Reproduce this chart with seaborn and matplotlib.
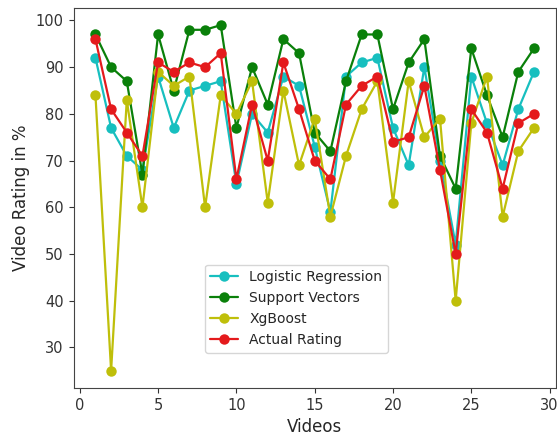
import matplotlib
matplotlib.use("Agg")
import matplotlib.pyplot as plt
import seaborn as sns
import pandas as pd

videos = list(range(1, 30))
logistic = [92, 77, 71, 68, 88, 77, 85, 86, 87, 65, 80, 76, 88, 86, 73, 59, 88, 91, 92, 77,
            69, 90, 70, 52, 88, 78, 69, 81, 89]
support = [97, 90, 87, 67, 97, 85, 98, 98, 99, 77, 90, 82, 96, 93, 76, 72, 87, 97, 97, 81,
           91, 96, 71, 64, 94, 84, 75, 89, 94]
xgboost = [84, 25, 83, 60, 89, 86, 88, 60, 84, 80, 87, 61, 85, 69, 79, 58, 71, 81, 87, 61,
           87, 75, 79, 40, 78, 88, 58, 72, 77]
actual = [96, 81, 76, 71, 91, 89, 91, 90, 93, 66, 82, 70, 91, 81, 70, 66, 82, 86, 88, 74,
          75, 86, 68, 50, 81, 76, 64, 78, 80]

series_names = ["Logistic Regression", "Support Vectors", "XgBoost", "Actual Rating"]
series_vals = [logistic, support, xgboost, actual]
colors = ["#17bfbf", "#0a800a", "#bfbf0a", "#e41a1c"]

sns.set_style("ticks")
fig = plt.figure(figsize=(5.57, 4.36), dpi=100)
ax = fig.add_axes([0.132, 0.110, 0.866, 0.872])

for name, vals, col in zip(series_names, series_vals, colors):
    df = pd.DataFrame({"Videos": videos, "Rating": vals})
    sns.lineplot(data=df, x="Videos", y="Rating", ax=ax, color=col, marker="o",
                 markersize=7.5, markeredgewidth=0, linewidth=1.6, label=name)

ax.set_xlabel("Videos", fontsize=12)
ax.set_ylabel("Video Rating in %", fontsize=12)
ax.tick_params(labelsize=10.5, colors="#333333")
for s in ax.spines.values():
    s.set_color("#444444")
ax.set_xticks([0, 5, 10, 15, 20, 25, 30])
ax.set_yticks([30, 40, 50, 60, 70, 80, 90, 100])
ax.margins(x=0.05, y=0.05)
ax.legend(loc="lower left", bbox_to_anchor=(0.258, 0.075), fontsize=10, frameon=True)

fig.savefig("out.png", dpi=100)
